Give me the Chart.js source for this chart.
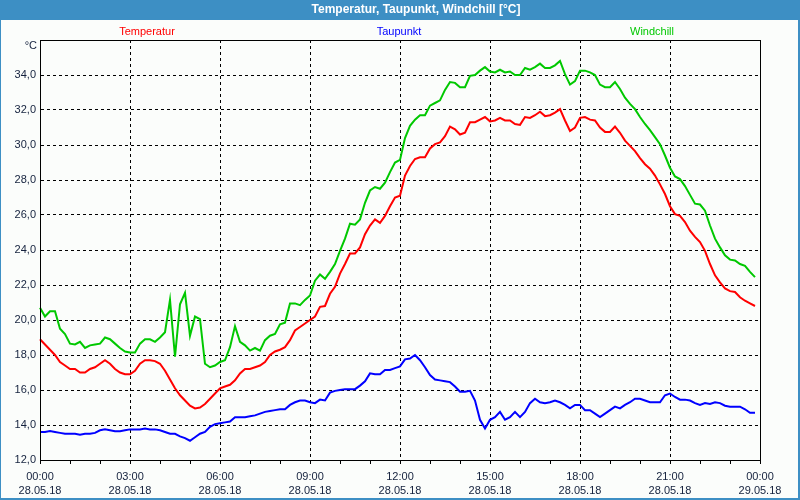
<!DOCTYPE html>
<html>
<head>
<meta charset="utf-8">
<script src="https://cdn.jsdelivr.net/npm/chart.js@4/dist/chart.umd.min.js"></script>
<style>
  html, body { margin: 0; padding: 0; background: #fff; }
  canvas { display: block; }
</style>
</head>
<body>
<canvas id="c" width="800" height="500"></canvas>
<script>
// Wetterstation 28.05.18, Werte alle 10 Minuten (00:00 .. 23:50)
const temperatur = [
  18.9, 18.6, 18.3, 18.0, 17.6, 17.4,
  17.2, 17.2, 17.0, 17.0, 17.2, 17.3,
  17.5, 17.7, 17.5, 17.2, 17.0, 16.9,
  16.9, 17.1, 17.5, 17.7, 17.7, 17.65,
  17.5, 17.1, 16.6, 16.1, 15.7, 15.4,
  15.1, 14.95, 15.0, 15.2, 15.5, 15.8,
  16.1, 16.2, 16.3, 16.55, 16.95, 17.2,
  17.2, 17.3, 17.4, 17.6, 18.0, 18.2,
  18.3, 18.45, 18.85, 19.4, 19.6, 19.8,
  20.0, 20.2, 20.75, 20.8, 21.5, 21.9,
  22.65, 23.2, 23.8, 23.8, 24.15, 24.9,
  25.4, 25.75, 25.55, 25.95, 26.5, 27.0,
  27.1, 28.25, 28.8, 29.2, 29.3, 29.3,
  29.8, 30.05, 30.15, 30.5, 31.05, 30.9,
  30.6, 30.7, 31.3, 31.3, 31.45, 31.6,
  31.35, 31.4, 31.55, 31.4, 31.4, 31.2,
  31.15, 31.6, 31.55, 31.7, 31.9, 31.65,
  31.7, 31.85, 32.05, 31.4, 30.8, 31.0,
  31.55, 31.6, 31.45, 31.4, 31.0, 30.75,
  30.75, 31.05, 30.7, 30.25, 29.95, 29.65,
  29.25, 28.9, 28.65, 28.25, 27.75, 27.2,
  26.5, 26.05, 25.95, 25.6, 25.1, 24.75,
  24.45, 23.95, 23.2, 22.55, 22.15, 21.8,
  21.65, 21.6, 21.3, 21.1, 20.95, 20.8
];
const taupunkt = [
  13.6, 13.6, 13.65, 13.6, 13.55, 13.5,
  13.5, 13.5, 13.45, 13.5, 13.5, 13.55,
  13.7, 13.75, 13.7, 13.65, 13.65, 13.7,
  13.75, 13.75, 13.75, 13.8, 13.75, 13.75,
  13.7, 13.6, 13.5, 13.5, 13.35, 13.25,
  13.1, 13.3, 13.5, 13.6, 13.9, 14.05,
  14.1, 14.15, 14.2, 14.45, 14.45, 14.45,
  14.5, 14.55, 14.65, 14.75, 14.8, 14.85,
  14.9, 14.9, 15.15, 15.3, 15.4, 15.4,
  15.3, 15.25, 15.45, 15.4, 15.85, 15.95,
  16.0, 16.05, 16.05, 16.05, 16.25, 16.5,
  16.95, 16.9, 16.9, 17.15, 17.15, 17.25,
  17.35, 17.75, 17.8, 18.0, 17.7, 17.3,
  16.85, 16.6, 16.55, 16.5, 16.45, 16.2,
  15.9, 15.9, 15.95, 15.4, 14.3, 13.8,
  14.3, 14.45, 14.75, 14.3, 14.45, 14.75,
  14.45, 14.75, 15.25, 15.5, 15.3, 15.25,
  15.3, 15.4, 15.3, 15.15, 14.95, 15.15,
  15.15, 14.85, 14.85, 14.65, 14.45, 14.65,
  14.85, 15.05, 14.95, 15.15, 15.3, 15.5,
  15.5, 15.4, 15.3, 15.3, 15.3, 15.7,
  15.8, 15.6, 15.45, 15.45, 15.4, 15.25,
  15.15, 15.25, 15.2, 15.3, 15.25, 15.1,
  15.05, 15.05, 15.05, 14.9, 14.7, 14.7
];
const windchill = [
  20.7, 20.2, 20.5, 20.5, 19.5, 19.2,
  18.65, 18.6, 18.75, 18.4, 18.55, 18.6,
  18.65, 19.0, 18.9, 18.65, 18.4, 18.2,
  18.15, 18.15, 18.65, 18.9, 18.9, 18.75,
  19.0, 19.3, 21.15, 17.9, 20.9, 21.55,
  19.1, 20.2, 20.05, 17.5, 17.3, 17.4,
  17.6, 17.7, 18.45, 19.65, 18.75, 18.55,
  18.25, 18.4, 18.25, 18.85, 19.1, 19.2,
  19.75, 19.85, 20.95, 20.95, 20.85, 21.15,
  21.4, 22.25, 22.6, 22.35, 22.75, 23.2,
  23.95, 24.65, 25.5, 25.45, 25.75, 26.7,
  27.4, 27.6, 27.5, 27.85, 28.45, 29.0,
  29.15, 30.4, 31.1, 31.45, 31.7, 31.7,
  32.25, 32.4, 32.55, 33.15, 33.6, 33.55,
  33.3, 33.3, 33.95, 34.0, 34.25, 34.45,
  34.2, 34.15, 34.3, 34.15, 34.2, 34.0,
  34.0, 34.4, 34.3, 34.45, 34.65, 34.4,
  34.4, 34.55, 34.8, 34.05, 33.45, 33.65,
  34.25, 34.25, 34.15, 34.0, 33.45, 33.3,
  33.3, 33.6, 33.2, 32.7, 32.35, 32.05,
  31.6, 31.2, 30.85, 30.45, 30.05, 29.4,
  28.7, 28.2, 28.05, 27.65, 27.15, 26.65,
  26.6, 26.25, 25.4, 24.65, 24.15, 23.7,
  23.45, 23.4, 23.2, 23.1, 22.75, 22.45
];
const xTickTimes = ['00:00', '03:00', '06:00', '09:00', '12:00', '15:00', '18:00', '21:00', '00:00'];
const xTickDates = ['28.05.18', '28.05.18', '28.05.18', '28.05.18', '28.05.18', '28.05.18', '28.05.18', '28.05.18', '29.05.18'];
const seriesNames = ['Temperatur', 'Taupunkt', 'Windchill'];

// 10-Minuten-Raster inkl. 24:00 als Endpunkt der Achse
const times = [];
for (let m = 0; m <= 24 * 60; m += 10) {
  const h = Math.floor(m / 60) % 24, mm = m % 60;
  times.push(String(h).padStart(2, '0') + ':' + String(mm).padStart(2, '0'));
}

const FONT = '"Liberation Sans", Arial, sans-serif';
const TXT = '#14213d';

const frame = {
  id: 'frame',
  beforeDraw(chart) {
    const c = chart.ctx;
    c.save();
    c.fillStyle = '#fbfdfb';
    c.fillRect(0, 0, 800, 500);
    c.fillStyle = '#3d8fc4';
    c.fillRect(0, 0, 800, 20);
    c.fillRect(0, 0, 1, 500);
    c.fillRect(798, 0, 2, 500);
    c.fillRect(0, 498, 800, 2);
    c.fillStyle = '#ffffff';
    c.font = 'bold 12px ' + FONT;
    c.textAlign = 'center';
    c.textBaseline = 'middle';
    c.fillText('Temperatur, Taupunkt, Windchill [°C]', 416, 10);
    c.restore();
  },
  afterDraw(chart) {
    const c = chart.ctx, a = chart.chartArea;
    c.save();
    c.strokeStyle = '#000';
    c.lineWidth = 1;
    c.setLineDash([]);
    c.strokeRect(Math.round(a.left) + 0.5, Math.round(a.top) + 0.5,
                 Math.round(a.right - a.left), Math.round(a.bottom - a.top));
    c.font = '11px ' + FONT;
    c.textBaseline = 'middle';
    c.textAlign = 'center';
    const legX = [147, 399, 652];
    chart.data.datasets.forEach((ds, i) => {
      c.fillStyle = ds.borderColor;
      c.fillText(ds.label, legX[i], 32);
    });
    c.fillStyle = TXT;
    c.textAlign = 'right';
    c.fillText('°C', 37, 46);
    c.restore();
  }
};

new Chart(document.getElementById('c'), {
  type: 'line',
  data: {
    labels: times,
    datasets: [
      { label: seriesNames[0], data: temperatur, borderColor: '#ff0000' },
      { label: seriesNames[1], data: taupunkt, borderColor: '#0000ff' },
      { label: seriesNames[2], data: windchill, borderColor: '#00c800' }
    ]
  },
  options: {
    responsive: false,
    devicePixelRatio: 1,
    animation: false,
    layout: { padding: { top: 40, right: 40, left: 0, bottom: 0 } },
    elements: {
      point: { radius: 0 },
      line: { borderWidth: 2, tension: 0, fill: false }
    },
    plugins: { legend: { display: false }, title: { display: false }, tooltip: { enabled: false } },
    scales: {
      x: {
        type: 'category',
        offset: false,
        afterFit: s => { s.height = 40; },
        grid: {
          color: ctx => ctx.index % 18 === 0 ? '#000' : 'rgba(0,0,0,0)',
          tickColor: ctx => ctx.index % 6 === 0 ? '#000' : 'rgba(0,0,0,0)',
          tickLength: 4,
          tickBorderDash: [],
          lineWidth: 1
        },
        border: { display: true, color: '#000', dash: [3, 3] },
        ticks: {
          autoSkip: false,
          maxRotation: 0,
          padding: 6,
          color: TXT,
          font: { family: FONT, size: 11, lineHeight: 1.3 },
          callback: (v, i) => i % 18 === 0 ? [xTickTimes[i / 18], xTickDates[i / 18]] : ''
        }
      },
      y: {
        min: 12,
        max: 36,
        afterFit: s => { s.width = 40; },
        grid: { color: '#000', drawTicks: false, lineWidth: 1 },
        border: { display: true, color: '#000', dash: [3, 3] },
        ticks: {
          stepSize: 2,
          padding: 4,
          color: TXT,
          font: { family: FONT, size: 11 },
          callback: v => v >= 36 ? '' : v.toFixed(1).replace('.', ',')
        }
      }
    }
  },
  plugins: [frame]
});
</script>
</body>
</html>
